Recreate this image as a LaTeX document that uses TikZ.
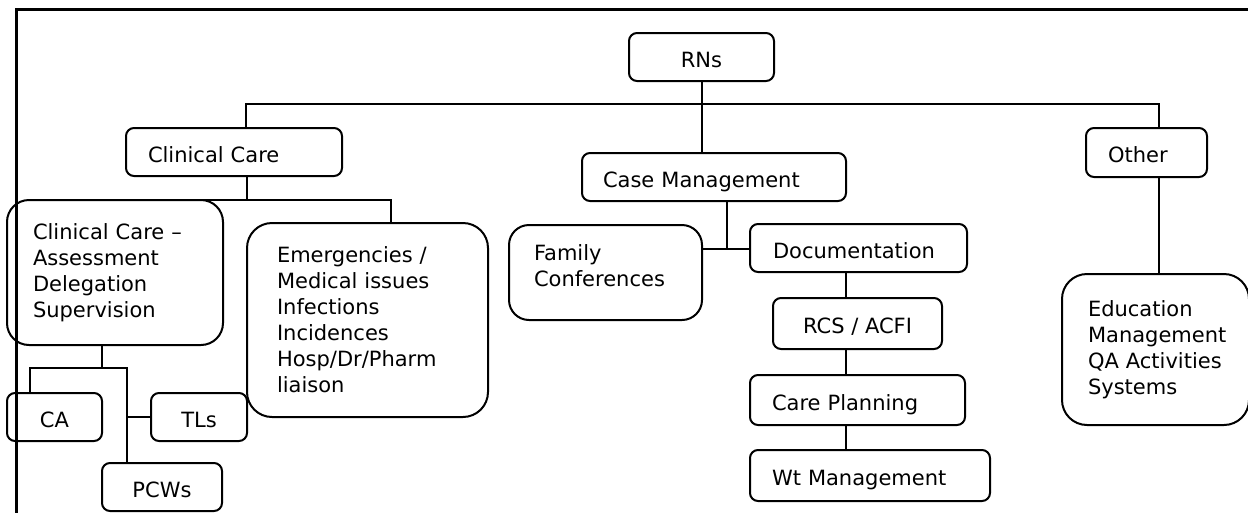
\documentclass[tikz,border=0pt]{standalone}
\usepackage{fontspec}
\setmainfont{DejaVu Sans}
\begin{document}
\begin{tikzpicture}[x=1pt,y=-1pt,
  base/.style={draw, line width=2pt, font=\fontsize{21}{26}\selectfont, inner ysep=0pt, outer sep=0pt, anchor=center},
  small/.style={base, rounded corners=8pt},
  big/.style={base, rounded corners=#1},
  single/.style={text height=20pt, text depth=0pt},
  conn/.style={line width=2pt},
  frame/.style={line width=3pt}
]
\useasboundingbox (0,0) rectangle (1248,512);
% frame
\draw[frame] (16,516) -- (16,9) -- (1252,9);

% boxes
\node[small, single, minimum width=145pt, minimum height=48pt] (RNs) at (701.5,57) {RNs};
\node[small, single, minimum width=216pt, minimum height=48pt, inner xsep=22pt, text width=172pt, align=left] (CC) at (234,152) {Clinical Care};
\node[small, single, minimum width=264pt, minimum height=48pt, inner xsep=21pt, text width=222pt, align=left] (CM) at (714,177) {Case Management};
\node[small, single, minimum width=121pt, minimum height=49pt, inner xsep=22pt, text width=77pt, align=left] (Other) at (1146.5,152.5) {Other};

\node[big=22pt, minimum width=216pt, minimum height=145pt, inner xsep=26pt, text width=164pt, align=left] (CCA) at (115,272.5) {Clinical Care –\\Assessment\\Delegation\\Supervision};
\node[big=25pt, minimum width=241pt, minimum height=194pt, inner xsep=30pt, text width=181pt, align=left] (Emerg) at (367.5,320) {Emergencies /\\Medical issues\\Infections\\Incidences\\Hosp/Dr/Pharm\\liaison};
\node[big=20pt, minimum width=193pt, minimum height=95pt, inner xsep=25pt, text width=143pt, align=left, text depth=39pt] (Family) at (605.5,272.5) {Family\\Conferences};
\node[small, single, minimum width=217pt, minimum height=48pt, inner xsep=23pt, text width=171pt, align=left] (Doc) at (858.5,248) {Documentation};
\node[small, single, minimum width=169pt, minimum height=51pt] (RCS) at (857.5,323.5) {RCS / ACFI};
\node[small, single, minimum width=215pt, minimum height=50pt, inner xsep=22pt, text width=171pt, align=left] (CP) at (857.5,400) {Care Planning};
\node[small, single, minimum width=240pt, minimum height=51pt, inner xsep=22pt, text width=196pt, align=left] (Wt) at (870,475.5) {Wt Management};
\node[big=25pt, minimum width=187pt, minimum height=151pt, inner xsep=26pt, text width=135pt, align=left] (Edu) at (1155.5,349.5) {Education\\Management\\QA Activities\\Systems};

\node[small, single, minimum width=95pt, minimum height=48pt] (CA) at (54.5,417) {CA};
\node[small, single, minimum width=96pt, minimum height=48pt] (TLs) at (199,417) {TLs};
\node[small, single, minimum width=120pt, minimum height=48pt] (PCWs) at (162,487) {PCWs};

% connectors
\coordinate (busL) at (246,104);
\coordinate (busR) at (1159,104);
\draw[conn] (RNs.south) -- (RNs.south |- CM.north);
\draw[conn] (busL |- CC.north) -- (busL) -- (busR) -- (busR |- Other.north);
\draw[conn] (busR |- Other.south) -- (busR |- Edu.north);

\coordinate (ccj) at (247,200);
\coordinate (emj) at (391,200);
\draw[conn] (ccj |- CC.south) -- (ccj);
\draw[conn] (CCA.north) -- (emj) -- (emj |- Emerg.north);

\coordinate (caj) at (102,368);
\coordinate (cal) at (30,368);
\coordinate (car) at (127,368);
\draw[conn] (caj |- CCA.south) -- (caj);
\draw[conn] (cal |- CA.north) -- (cal) -- (car) -- (car |- PCWs.north);
\draw[conn] (car |- TLs.west) -- (TLs.west);

\coordinate (cmj) at (727,249);
\draw[conn] (cmj |- CM.south) -- (cmj);
\draw[conn] (Family.east |- cmj) -- (Doc.west |- cmj);

\coordinate (dx) at (846,0);
\draw[conn] (dx |- Doc.south) -- (dx |- RCS.north);
\draw[conn] (dx |- RCS.south) -- (dx |- CP.north);
\draw[conn] (dx |- CP.south) -- (dx |- Wt.north);
\end{tikzpicture}
\end{document}
